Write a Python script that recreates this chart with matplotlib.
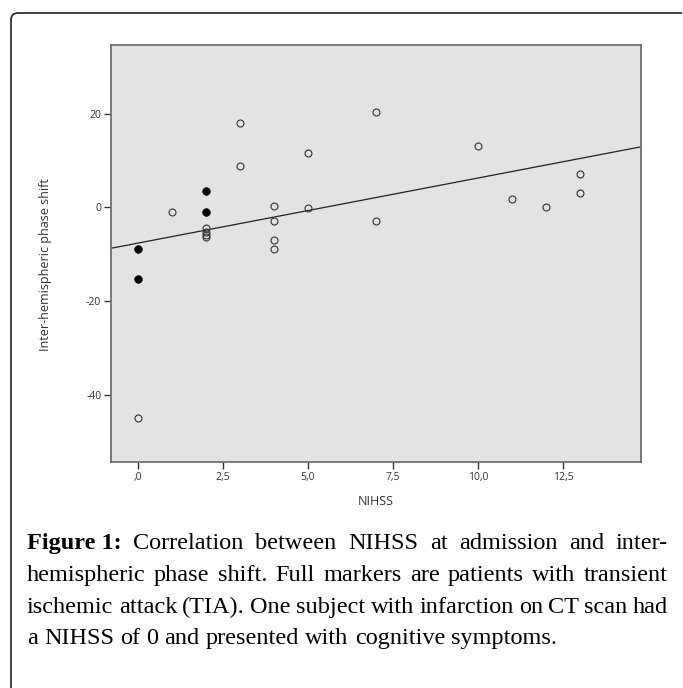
import numpy as np
import matplotlib
matplotlib.use('Agg')
import matplotlib.pyplot as plt
from matplotlib.path import Path
from matplotlib.patches import PathPatch

# NIHSS vs inter-hemispheric phase shift
tia_x = [0, 0, 2, 2]
tia_y = [-8.9, -15.2, 3.4, -1.0]
inf_x = [0, 1, 2, 2, 2, 2, 3, 3, 4, 4, 4, 4, 5, 5, 7, 7, 10, 11, 12, 13, 13]
inf_y = [-44.9, -0.9, -4.5, -5.3, -5.9, -6.4, 18.1, 8.75, 0.35, -2.9, -6.9, -8.8,
         11.7, -0.2, 20.4, -2.9, 13.1, 1.85, 0.1, 7.1, 3.1]

x_ticks = [0, 2.5, 5, 7.5, 10, 12.5]
x_ticklabels = [',0', '2,5', '5,0', '7,5', '10,0', '12,5']
y_ticks = [20, 0, -20, -40]
y_ticklabels = ['20', '0', '-20', '-40']

caption = [
    [('Figure 1:', True), ('Correlation', False), ('between', False), ('NIHSS', False),
     ('at', False), ('admission', False), ('and', False), ('inter-', False)],
    [(w, False) for w in 'hemispheric phase shift. Full markers are patients with transient'.split()],
    [(w, False) for w in 'ischemic attack (TIA). One subject with infarction on CT scan had'.split()],
    [(w, False) for w in 'a NIHSS of 0 and presented with cognitive symptoms.'.split()],
]

W, H = 683, 688
fig = plt.figure(figsize=(6.83, 6.88), dpi=100)
ax = fig.add_axes([111 / W, 1 - 462 / H, 530 / W, 417 / H])
ax.set_facecolor('#e3e3e3')

all_x = np.array(tia_x + inf_x)
all_y = np.array(tia_y + inf_y)
b, a = np.polyfit(all_x, all_y, 1)
xlim = (-0.78, 14.78)
xl = np.array(xlim)
ax.plot(xl, a + b * xl, color='#222222', lw=0.9, zorder=2)

ax.plot(inf_x, inf_y, 'o', ms=5, mfc='none', mec='#333333', mew=0.8, zorder=3)
ax.plot(tia_x, tia_y, 'o', ms=5.5, mfc='black', mec='black', mew=0.5, zorder=3)

ax.set_xlim(xlim)
ax.set_ylim(-54.4, 34.7)
ax.set_xticks(x_ticks)
ax.set_xticklabels(x_ticklabels)
ax.set_yticks(y_ticks)
ax.set_yticklabels(y_ticklabels)
ax.tick_params(direction='out', length=5, width=1, color='#333333',
               labelsize=7.5, labelcolor='#333333', pad=2)
for s in ax.spines.values():
    s.set_color('#707070')
    s.set_linewidth(1.3)

ax.set_xlabel('NIHSS', fontsize=9, color='#333333', labelpad=9, family='Open Sans')
fig.text(46 / W, 1 - 265 / H, 'Inter-hemispheric phase shift', rotation=90,
         ha='center', va='center', fontsize=9, color='#333333', family='Open Sans')
for t in ax.get_xticklabels() + ax.get_yticklabels():
    t.set_family('Open Sans')

# border with rounded top-left corner
x0, yt, r = 11 / W, 1 - 13 / H, 7
verts = [(682 / W, yt), ((11 + r) / W, yt), (x0, yt), (x0, 1 - (13 + r) / H), (x0, 0)]
codes = [Path.MOVETO, Path.LINETO, Path.CURVE3, Path.CURVE3, Path.LINETO]
fig.patches.append(PathPatch(Path(verts, codes), transform=fig.transFigure,
                             fill=False, ec='#222222', lw=1.2))

# justified caption
fs = 17.5
left, right = 27, 668
line_y = [549, 581, 613, 644]
renderer = fig.canvas.get_renderer()
for i, (words, yy) in enumerate(zip(caption, line_y)):
    objs = []
    for w, bold in words:
        t = fig.text(0, 1 - yy / H, w, fontsize=fs, family='Liberation Serif',
                     weight='bold' if bold else 'normal', va='baseline', ha='left')
        objs.append(t)
    widths = [o.get_window_extent(renderer).width for o in objs]
    if i < len(caption) - 1:
        gap = (right - left - sum(widths)) / (len(objs) - 1)
    else:
        sp = fig.text(0, 0, 'a a', fontsize=fs, family='Liberation Serif')
        aa = fig.text(0, 0, 'aa', fontsize=fs, family='Liberation Serif')
        gap = sp.get_window_extent(renderer).width - aa.get_window_extent(renderer).width
        sp.remove()
        aa.remove()
    x = left
    for o, wd in zip(objs, widths):
        o.set_x(x / W)
        x += wd + gap

fig.savefig('out.png', dpi=100)
